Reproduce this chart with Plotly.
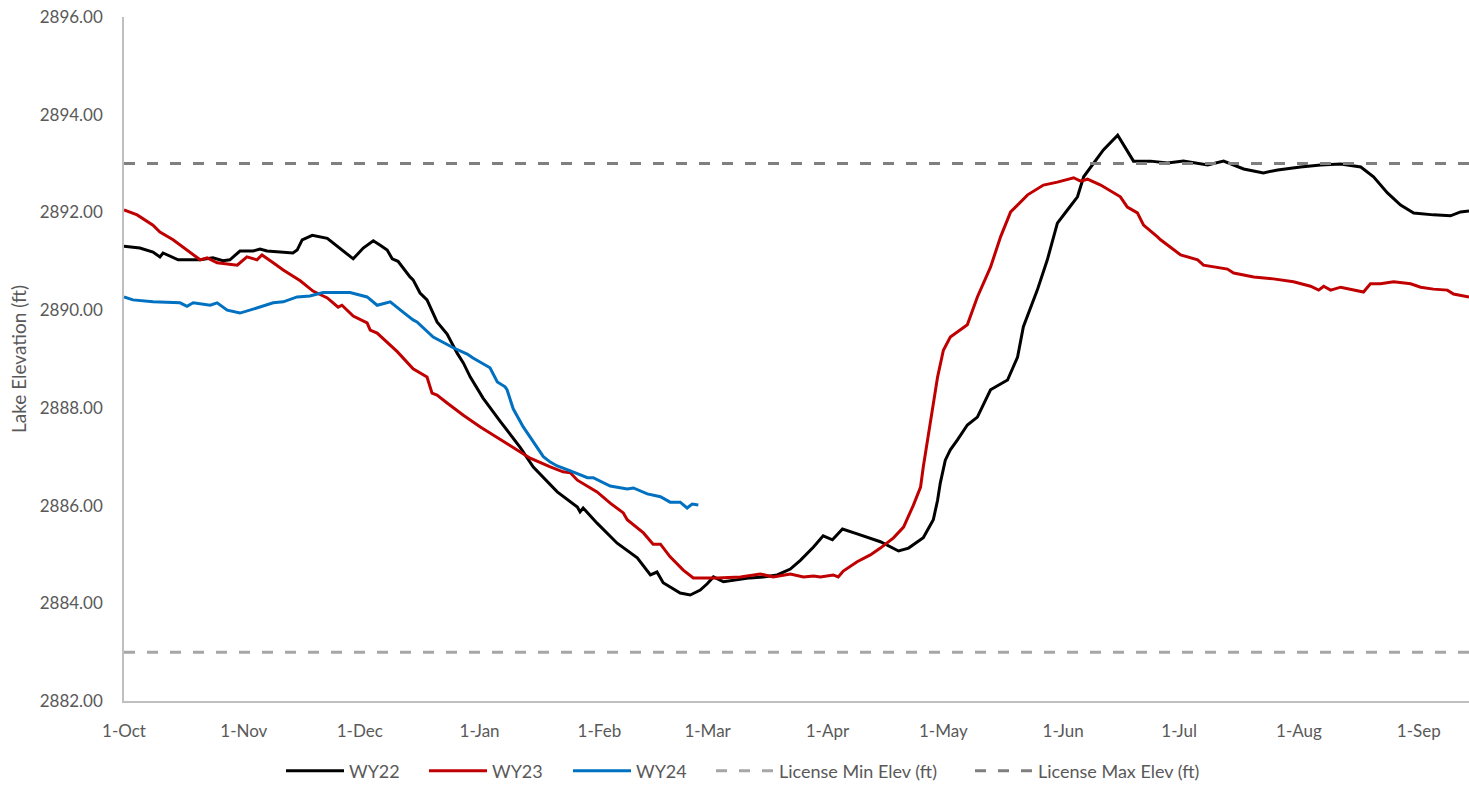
import plotly.graph_objects as go

# Day offsets from 1-Oct (water-year day) and lake elevations (ft)
wy22_day = [0, 4.1, 7.5, 9.3, 10.1, 14.0, 19.7, 23.0, 25.6, 27.4, 30.0, 33.4, 35.2, 37.0, 43.7, 44.8,
            46.1, 48.7, 52.6, 55.9, 59.3, 61.9, 64.5, 66.3, 68.1, 69.4, 70.9, 74.0, 74.8, 76.6, 78.4,
            81.0, 83.6, 86.2, 87.8, 89.6, 92.9, 97.3, 102.5, 105.9, 109.8, 112.1, 117.3, 118.0, 118.8,
            122.4, 127.6, 132.8, 136.2, 137.9, 139.5, 143.9, 146.5, 149.1, 150.9, 152.5, 155.1, 158.7,
            162.0, 165.4, 169.0, 172.4, 175.0, 178.4, 180.9, 183.3, 185.9, 189.7, 192.6, 195.7, 200.4,
            203.0, 206.8, 207.9, 209.4, 210.5, 211.2, 212.5, 213.8, 215.6, 218.2, 220.8, 224.2, 228.6,
            231.2, 232.7, 236.3, 238.9, 241.5, 244.1, 246.7, 248.3, 250.8, 253.4, 257.1, 261.2, 265.6,
            270.0, 274.1, 280.4, 284.5, 289.7, 294.8, 298.5, 304.4, 309.6, 314.8, 320.0, 323.3, 326.9,
            330.3, 333.7, 338.8, 343.2, 345.8, 348.0]
wy22_elev = [2891.31, 2891.27, 2891.19, 2891.09, 2891.17, 2891.03, 2891.03, 2891.07, 2891.01, 2891.03,
             2891.21, 2891.21, 2891.25, 2891.21, 2891.17, 2891.23, 2891.44, 2891.53, 2891.47, 2891.26,
             2891.05, 2891.27, 2891.42, 2891.33, 2891.23, 2891.05, 2891.00, 2890.68, 2890.62, 2890.35,
             2890.21, 2889.76, 2889.51, 2889.12, 2888.92, 2888.63, 2888.20, 2887.73, 2887.19, 2886.79,
             2886.46, 2886.28, 2885.97, 2885.87, 2885.95, 2885.64, 2885.23, 2884.93, 2884.58, 2884.64,
             2884.42, 2884.21, 2884.17, 2884.27, 2884.40, 2884.54, 2884.44, 2884.48, 2884.52, 2884.54,
             2884.58, 2884.70, 2884.88, 2885.15, 2885.38, 2885.30, 2885.52, 2885.42, 2885.34, 2885.26,
             2885.07, 2885.13, 2885.34, 2885.50, 2885.71, 2886.11, 2886.46, 2886.93, 2887.14, 2887.34,
             2887.65, 2887.81, 2888.37, 2888.57, 2889.04, 2889.66, 2890.41, 2891.03, 2891.78, 2892.05,
             2892.32, 2892.73, 2893.01, 2893.28, 2893.58, 2893.05, 2893.05, 2893.01, 2893.05, 2892.97,
             2893.05, 2892.89, 2892.81, 2892.87, 2892.93, 2892.97, 2892.99, 2892.93, 2892.73, 2892.40,
             2892.15, 2891.99, 2891.95, 2891.93, 2892.01, 2892.03]

wy23_day = [0, 3.4, 7.5, 9.3, 12.7, 16.3, 19.7, 21.5, 24.1, 29.3, 31.8, 34.4, 35.7, 38.6, 41.2, 45.6,
            48.9, 52.6, 55.4, 56.4, 59.3, 62.9, 63.7, 65.5, 70.7, 74.8, 78.4, 79.7, 81.0, 83.6, 87.8,
            92.2, 97.3, 102.5, 105.1, 110.3, 113.6, 115.5, 117.3, 122.4, 125.8, 129.2, 130.2, 134.4,
            136.9, 138.8, 141.3, 144.7, 147.3, 153.5, 159.5, 164.6, 168.0, 172.4, 175.8, 178.4, 180.2,
            183.5, 184.8, 186.1, 189.7, 193.1, 195.7, 199.1, 201.7, 204.2, 206.1, 206.8, 207.4, 208.6,
            210.5, 212.0, 213.8, 218.2, 220.8, 224.2, 226.8, 229.4, 233.8, 237.9, 241.5, 245.7, 247.5,
            249.3, 252.7, 257.8, 259.6, 262.2, 263.8, 267.4, 268.2, 273.4, 277.8, 279.3, 285.5, 287.1,
            292.3, 297.4, 302.6, 307.0, 309.1, 310.4, 312.2, 314.8, 320.7, 322.5, 325.1, 328.5, 332.9,
            335.5, 338.8, 342.4, 344.0, 348.0]
wy23_elev = [2892.05, 2891.95, 2891.74, 2891.60, 2891.44, 2891.23, 2891.03, 2891.07, 2890.97, 2890.92,
             2891.09, 2891.03, 2891.13, 2890.97, 2890.82, 2890.60, 2890.39, 2890.25, 2890.06, 2890.10,
             2889.88, 2889.74, 2889.59, 2889.53, 2889.15, 2888.80, 2888.63, 2888.30, 2888.26, 2888.10,
             2887.85, 2887.61, 2887.36, 2887.10, 2886.97, 2886.79, 2886.69, 2886.67, 2886.52, 2886.28,
             2886.05, 2885.85, 2885.71, 2885.44, 2885.21, 2885.21, 2884.95, 2884.68, 2884.52, 2884.52,
             2884.54, 2884.60, 2884.54, 2884.60, 2884.54, 2884.56, 2884.54, 2884.58, 2884.54, 2884.66,
             2884.85, 2884.99, 2885.13, 2885.34, 2885.56, 2886.00, 2886.38, 2886.79, 2887.10, 2887.69,
             2888.63, 2889.18, 2889.45, 2889.70, 2890.27, 2890.88, 2891.50, 2892.01, 2892.36, 2892.56,
             2892.62, 2892.71, 2892.64, 2892.68, 2892.56, 2892.32, 2892.11, 2891.99, 2891.74, 2891.50,
             2891.44, 2891.13, 2891.03, 2890.92, 2890.84, 2890.76, 2890.68, 2890.64, 2890.58, 2890.49,
             2890.41, 2890.49, 2890.41, 2890.47, 2890.37, 2890.54, 2890.54, 2890.58, 2890.54, 2890.47,
             2890.43, 2890.41, 2890.33, 2890.27]

wy24_day = [0, 2.3, 7.5, 14.5, 16.3, 17.9, 22.3, 24.1, 26.7, 30.0, 33.4, 35.2, 38.6, 41.2, 44.8, 48.1,
            51.5, 58.5, 62.9, 65.5, 68.9, 72.2, 74.8, 75.8, 80.0, 85.2, 88.8, 90.3, 94.7, 96.6, 98.6,
            99.1, 100.7, 103.3, 104.3, 105.9, 107.7, 108.5, 110.3, 112.1, 115.5, 119.9, 121.4, 125.8,
            130.2, 131.8, 135.4, 138.8, 141.3, 143.9, 145.7, 147.0, 148.6]
wy24_elev = [2890.27, 2890.21, 2890.17, 2890.15, 2890.08, 2890.15, 2890.10, 2890.15, 2890.00, 2889.94,
             2890.02, 2890.06, 2890.15, 2890.17, 2890.27, 2890.29, 2890.36, 2890.36, 2890.27, 2890.10,
             2890.17, 2889.96, 2889.80, 2889.76, 2889.45, 2889.23, 2889.10, 2889.02, 2888.82, 2888.53,
             2888.43, 2888.37, 2887.98, 2887.61, 2887.49, 2887.30, 2887.08, 2887.00, 2886.89, 2886.81,
             2886.71, 2886.57, 2886.57, 2886.40, 2886.34, 2886.36, 2886.24, 2886.18, 2886.07, 2886.07,
             2885.95, 2886.03, 2886.01]

license_day = [0, 348]
license_min = [2883, 2883]
license_max = [2893, 2893]

month_days = [0, 31, 61, 92, 123, 151, 182, 212, 243, 273, 304, 335]
month_labels = ["1-Oct", "1-Nov", "1-Dec", "1-Jan", "1-Feb", "1-Mar", "1-Apr", "1-May",
                "1-Jun", "1-Jul", "1-Aug", "1-Sep"]
y_ticks = [2882, 2884, 2886, 2888, 2890, 2892, 2894, 2896]

FONT = "Lato"
TXT = "#595959"
W, H = 1469, 785

series = [
    ("WY22", wy22_day, wy22_elev, dict(color="#000000", width=3)),
    ("WY23", wy23_day, wy23_elev, dict(color="#c00000", width=3)),
    ("WY24", wy24_day, wy24_elev, dict(color="#0070c0", width=3)),
    ("License Min Elev (ft)", license_day, license_min, dict(color="#a6a6a6", width=3, dash="11px,12px")),
    ("License Max Elev (ft)", license_day, license_max, dict(color="#7f7f7f", width=3, dash="11px,12px")),
]
# left edge (px) of each legend entry
legend_left_px = [281, 424, 568, 711, 970]

fig = go.Figure()
legend_layouts = {}
for i, (name, xs, ys, line) in enumerate(series):
    key = "legend" if i == 0 else f"legend{i + 1}"
    fig.add_trace(go.Scatter(x=xs, y=ys, mode="lines", name=name, line=line, legend=key))
    legend_layouts[key] = dict(orientation="h", xref="container", x=legend_left_px[i] / W,
                               xanchor="left", yref="container", y=1 - 771 / H, yanchor="middle",
                               font=dict(family=FONT, size=18, color=TXT), itemwidth=58,
                               bgcolor="rgba(0,0,0,0)")

fig.update_layout(
    width=W, height=H,
    margin=dict(l=124, r=0, t=17, b=84),
    paper_bgcolor="white", plot_bgcolor="white",
    font=dict(family=FONT, size=17, color=TXT),
    showlegend=True,
    xaxis=dict(range=[0, 348], tickvals=month_days, ticktext=month_labels,
               showgrid=False, zeroline=False, showline=True, linecolor="#bfbfbf", linewidth=1.5,
               ticks="", ticklabelstandoff=14, tickfont=dict(family=FONT, size=17, color=TXT)),
    yaxis=dict(range=[2882, 2896], tickvals=y_ticks, tickformat=".2f",
               showgrid=False, zeroline=False, showline=True, linecolor="#bfbfbf", linewidth=1.5,
               ticks="", ticklabelstandoff=16, tickfont=dict(family=FONT, size=17, color=TXT),
               title=dict(text="Lake Elevation (ft)", font=dict(family=FONT, size=19, color=TXT),
                          standoff=8)),
    **legend_layouts,
)

fig.write_html("out.html", config={"displayModeBar": False},
               post_script="document.body.style.margin='0';document.body.style.overflow='hidden';")
